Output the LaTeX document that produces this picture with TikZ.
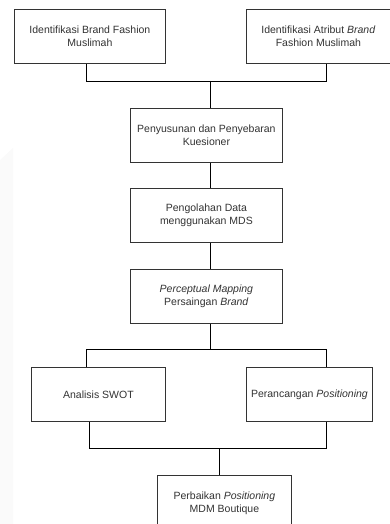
\documentclass[tikz,border=0pt]{standalone}
\usepackage{fontspec}
\setmainfont{Liberation Sans}
\definecolor{strip}{HTML}{FAFAFA}
\begin{document}
\begin{tikzpicture}[x=1pt,y=-1pt,
  box/.style={draw=black!80, line width=0.8pt, fill=white, anchor=north west, inner sep=0pt, align=center, font=\fontsize{10.5}{13.5}\selectfont, text=black!80},
  link/.style={draw=black, line width=0.8pt}]
\useasboundingbox (0,0) rectangle (390,524);
\fill[strip] (0,160) -- (13,148) -- (13,524) -- (0,524) -- cycle;
\node[box, minimum width=151pt, minimum height=54pt] (b1) at (14,9) {Identifikasi Brand Fashion\\Muslimah};
\node[box, minimum width=144pt, minimum height=54pt] (b2) at (246,9) {Identifikasi Atribut \textit{Brand}\\Fashion Muslimah};
\node[box, minimum width=152pt, minimum height=54pt] (b3) at (130,108) {Penyusunan dan Penyebaran\\Kuesioner};
\node[box, minimum width=152pt, minimum height=54pt] (b4) at (130,188) {Pengolahan Data\\menggunakan MDS};
\node[box, minimum width=152pt, minimum height=54pt] (b5) at (130,269) {\textit{Perceptual Mapping}\\Persaingan \textit{Brand}};
\node[box, minimum width=134pt, minimum height=54pt] (b6) at (31,367) {Analisis SWOT};
\node[box, minimum width=126pt, minimum height=54pt] (b7) at (246,367) {Perancangan \textit{Positioning}};
\node[box, minimum width=134pt, minimum height=56pt] (b8) at (157,475) {Perbaikan \textit{Positioning}\\MDM Boutique};
\coordinate (j1) at (210,81);
\coordinate (j2) at (210,349);
\coordinate (j3) at (219,448);
\draw[link] (b1.south -| 86,0) |- (j1);
\draw[link] (b2.south -| 326,0) |- (j1);
\draw[link] (j1) -- (b3.north -| j1);
\draw[link] (b3.south -| j1) -- (b4.north -| j1);
\draw[link] (b4.south -| j1) -- (b5.north -| j1);
\draw[link] (b5.south -| j2) -- (j2);
\draw[link] (j2) -| (b6.north -| 86,0);
\draw[link] (j2) -| (b7.north -| 326,0);
\draw[link] (b6.south -| 89,0) |- (j3);
\draw[link] (b7.south -| 326,0) |- (j3);
\draw[link] (j3) -- (b8.north -| j3);
\end{tikzpicture}
\end{document}
